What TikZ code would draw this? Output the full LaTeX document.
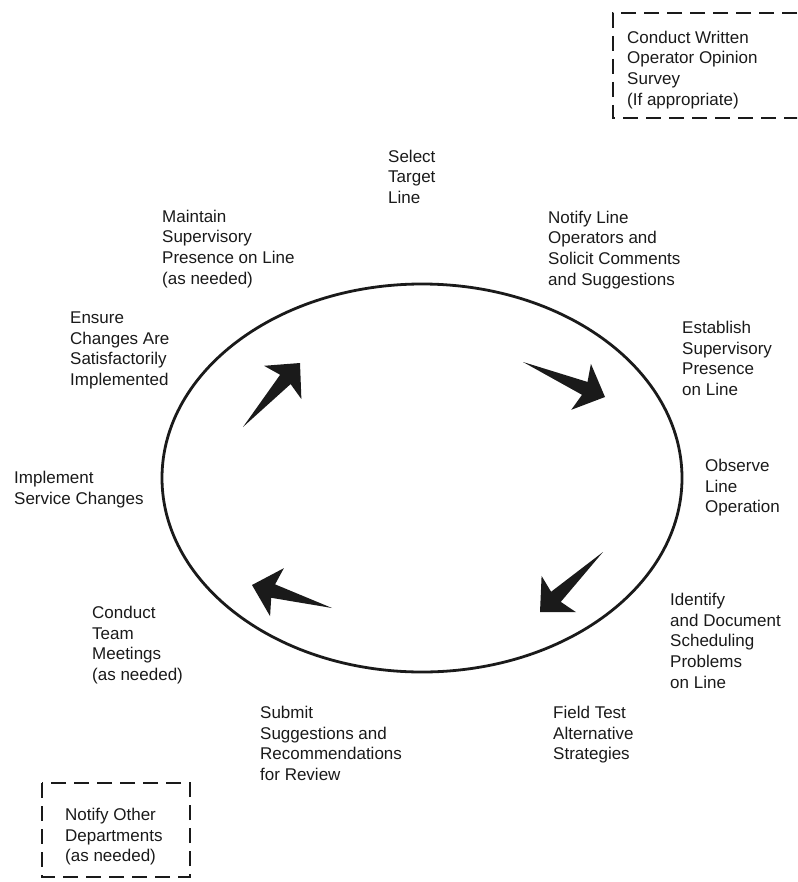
\documentclass[tikz,border=0pt]{standalone}
\usepackage{fontspec}
\setmainfont{Liberation Sans}
\usetikzlibrary{calc}

% first-line strut: the top of each text block sits 14pt above its first baseline
\newcommand{\tstrut}{\rule{0pt}{14pt}}

% tapered arrow from tail coordinate #1 to tip coordinate #2
\newcommand{\taperarrow}[2]{%
  \coordinate (#1-base) at ($(#2)!26pt!(#1)$);
  \coordinate (#1-neck) at ($(#2)!22pt!(#1)$);
  \fill[arrowfill] (#1)
    -- ($(#1-neck)!7pt!90:(#2)$)
    -- ($(#1-base)!25pt!90:(#2)$)
    -- (#2)
    -- ($(#1-base)!25pt!-90:(#2)$)
    -- ($(#1-neck)!7pt!-90:(#2)$)
    -- cycle;%
}

\definecolor{ink}{HTML}{1A1A1A}

\begin{document}
\begin{tikzpicture}[x=1pt,y=-1pt,
  textblk/.style={anchor=north west, inner sep=0pt, align=left, text=ink,
    font={\fontsize{17}{20.8}\selectfont}},
  optbox/.style={draw=ink, line width=2.2pt, dash pattern=on 15pt off 8pt},
  cycleline/.style={draw=ink, line width=2.8pt},
  arrowfill/.style={fill=ink}]

\useasboundingbox (0,0) rectangle (797,882);
\clip (0,0) rectangle (797,882);

% the improvement cycle
\draw[cycleline] (422,478) ellipse [x radius=260, y radius=194];

% steps around the cycle (top-left corner = first baseline - 14)
\node[textblk] (select)   at (388,148) {\tstrut Select\\Target\\Line};
\node[textblk] (notify)   at (548,209) {\tstrut Notify Line\\Operators and\\Solicit Comments\\and Suggestions};
\node[textblk] (estab)    at (682,319) {\tstrut Establish\\Supervisory\\Presence\\on Line};
\node[textblk] (observe)  at (705,457) {\tstrut Observe\\Line\\Operation};
\node[textblk] (identify) at (670,591) {\tstrut Identify\\and Document\\Scheduling\\Problems\\on Line};
\node[textblk] (field)    at (553,704) {\tstrut Field Test\\Alternative\\Strategies};
\node[textblk] (submit)   at (260,704) {\tstrut Submit\\Suggestions and\\Recommendations\\for Review};
\node[textblk] (conduct)  at (92,604)  {\tstrut Conduct\\Team\\Meetings\\(as needed)};
\node[textblk] (impl)     at (14,469)  {\tstrut Implement\\Service Changes};
\node[textblk] (ensure)   at (70,309)  {\tstrut Ensure\\Changes Are\\Satisfactorily\\Implemented};
\node[textblk] (maint)    at (162,208) {\tstrut Maintain\\Supervisory\\Presence on Line\\(as needed)};

% optional steps in dashed boxes
\node[textblk] (survey) at (627,29) {\tstrut Conduct Written\\Operator Opinion\\Survey\\(If appropriate)};
\draw[optbox] (820,13) -- (613,13) -- (613,118) -- (820,118);

\node[textblk] (other) at (65,806) {\tstrut Notify Other\\Departments\\(as needed)};
\draw[optbox] (42,783) rectangle (190,877);

% direction arrows inside the cycle
\coordinate (a1t) at (243,427); \coordinate (a1h) at (300,363);
\coordinate (a2t) at (523,362); \coordinate (a2h) at (605,397);
\coordinate (a3t) at (603,552); \coordinate (a3h) at (540,612);
\coordinate (a4t) at (332,608); \coordinate (a4h) at (252,585);
\taperarrow{a1t}{a1h}
\taperarrow{a2t}{a2h}
\taperarrow{a3t}{a3h}
\taperarrow{a4t}{a4h}
\end{tikzpicture}
\end{document}
